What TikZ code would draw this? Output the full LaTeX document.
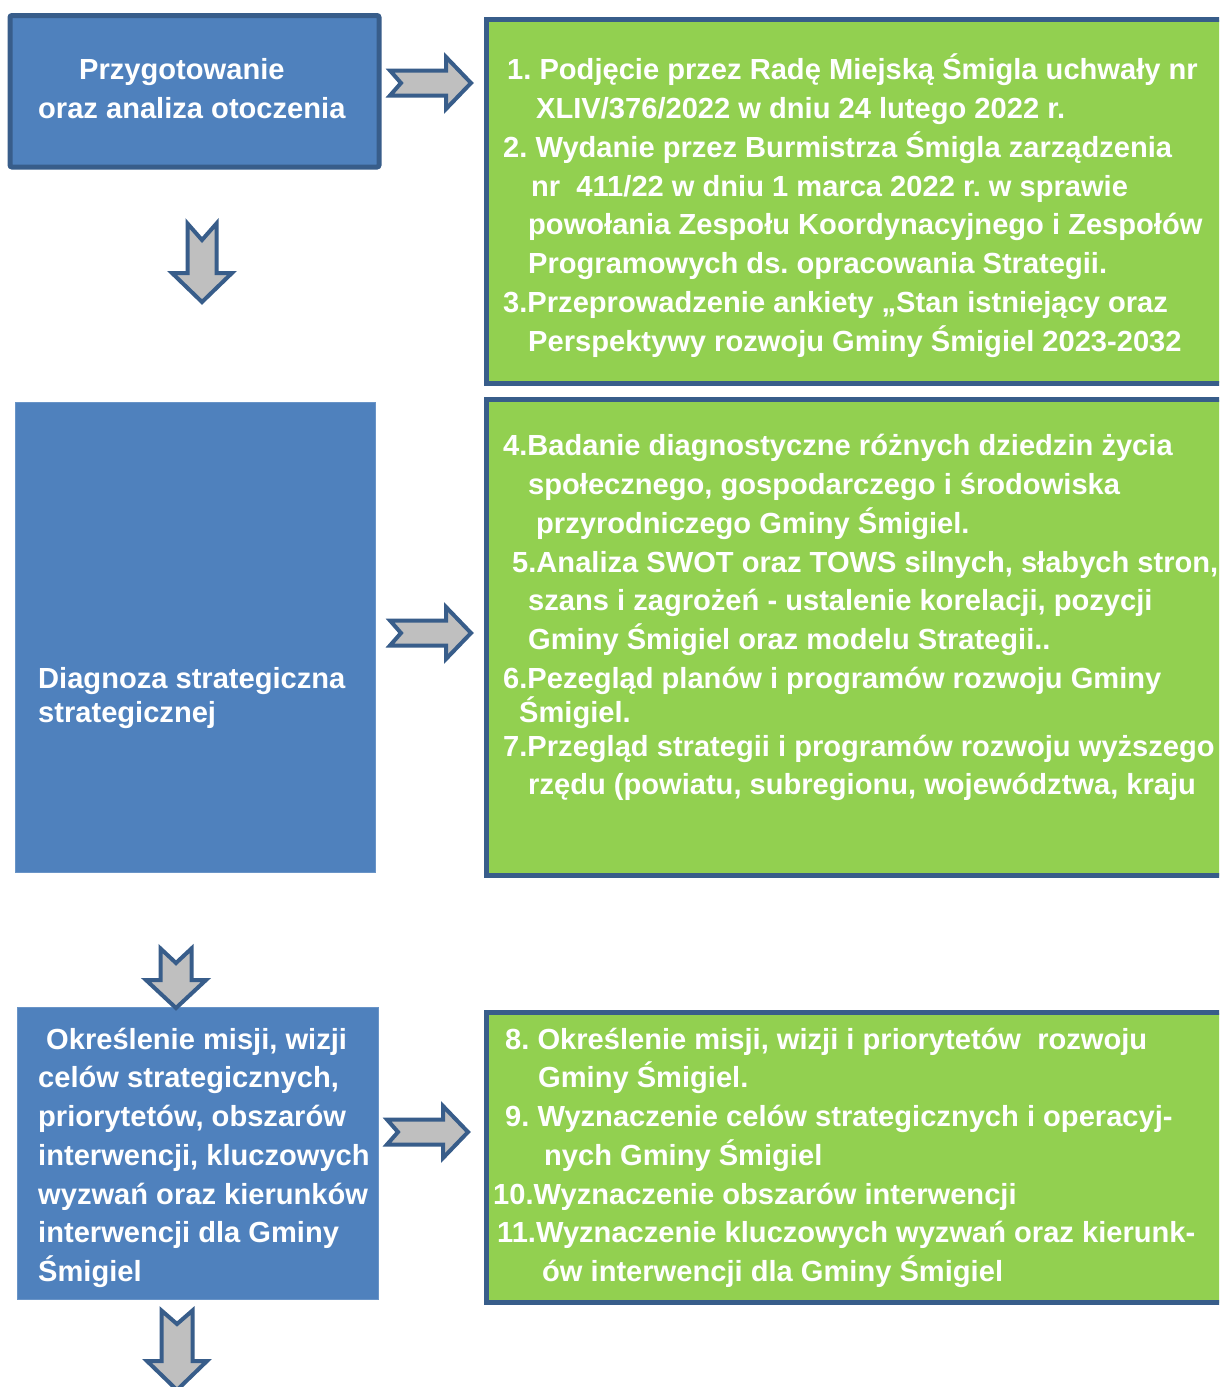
\documentclass[tikz,border=0pt]{standalone}
\usepackage{fontspec}
\setmainfont{Liberation Sans}
\definecolor{boxblue}{HTML}{4F81BD}
\definecolor{edgeblue}{HTML}{385D8A}
\definecolor{boxgreen}{HTML}{92D050}
\definecolor{arrgray}{HTML}{BFBFBF}
\begin{document}
\frenchspacing
\begin{tikzpicture}[x=1pt,y=-1pt,
  txt/.style={anchor=base west, inner sep=0pt, text=white, font=\frenchspacing\bfseries\fontsize{29.1}{39}\selectfont},
  blueframe/.style={fill=boxblue, draw=edgeblue, line width=5pt, rounded corners=2pt, inner sep=0pt},
  blueplain/.style={fill=boxblue, draw=boxblue!85!white, line width=1pt, inner sep=0pt},
  greenbox/.style={fill=boxgreen, draw=edgeblue, line width=5pt, inner sep=0pt},
  blockarrow/.style={fill=arrgray, draw=edgeblue, line width=4pt, line join=miter}]
\useasboundingbox (0,0) rectangle (1219,1387);
\clip (0,0) rectangle (1219,1387);
\fill[white] (0,0) rectangle (1219,1387);

% boxes
\node[blueframe, minimum width=369pt, minimum height=151.5pt] (b1) at (194.5,91.25) {};
\node[greenbox, minimum width=753.5pt, minimum height=363.5pt] (g1) at (863.25,201.25) {};
\node[blueplain, minimum width=360pt, minimum height=470pt] (b2) at (195,637) {};
\node[greenbox, minimum width=753.5pt, minimum height=476pt] (g2) at (863.25,637.5) {};
\node[blueplain, minimum width=361pt, minimum height=292pt] (b3) at (197.5,1153) {};
\node[greenbox, minimum width=753.5pt, minimum height=290pt] (g3) at (863.25,1157.5) {};

% right block arrows
\foreach \nm/\ax/\ay in {r1/388/83, r2/388/633, r3/385/1132}{
  \coordinate (\nm) at (\ax,\ay);
  \draw[blockarrow, shift={(\nm)}] (2,-12.5) -- (13,0) -- (2,12.5) -- (58,12.5) -- (58,26) -- (83,0) -- (58,-26) -- (58,-12.5) -- cycle;
}
% down block arrows
\coordinate (d1) at (202,222);
\draw[blockarrow, shift={(d1)}] (-14.5,1.5) -- (0,18) -- (14.5,1.5) -- (14.5,51) -- (30,51) -- (0,80) -- (-30,51) -- (-14.5,51) -- cycle;
\coordinate (d2) at (176,947);
\draw[blockarrow, shift={(d2)}] (-15.5,1.5) -- (0,16) -- (15.5,1.5) -- (15.5,33) -- (30,33) -- (0,61) -- (-30,33) -- (-15.5,33) -- cycle;
\coordinate (d3) at (177,1309);
\draw[blockarrow, shift={(d3)}] (-15.5,1.5) -- (0,15) -- (15.5,1.5) -- (15.5,52) -- (30,52) -- (0,81) -- (-30,52) -- (-15.5,52) -- cycle;

% blue box texts
\node[txt] (b1a) at (79,79) {Przygotowanie};
\node[txt] (b1b) at (38,118) {oraz analiza otoczenia};
\node[txt] (b2a) at (38,688) {Diagnoza strategiczna};
\node[txt] (b2b) at (38,722) {strategicznej};
\node[txt] (b3a) at (46,1049) {Określenie misji, wizji};
\node[txt] (b3b) at (38,1087) {celów strategicznych,};
\node[txt] (b3c) at (38,1126) {priorytetów, obszarów};
\node[txt] (b3d) at (38,1165) {interwencji, kluczowych};
\node[txt] (b3e) at (38,1204) {wyzwań oraz kierunków};
\node[txt] (b3f) at (38,1242) {interwencji dla Gminy};
\node[txt] (b3g) at (38,1281) {Śmigiel};

% green box 1
\node[txt] (g1a) at (507,79) {1. Podjęcie przez Radę Miejską Śmigla uchwały nr};
\node[txt] (g1b) at (536,118) {XLIV/376/2022 w dniu 24 lutego 2022 r.};
\node[txt] (g1c) at (503,157) {2. Wydanie przez Burmistrza Śmigla zarządzenia};
\node[txt] (g1d) at (531,196) {nr\ \ 411/22 w dniu 1 marca 2022 r. w sprawie};
\node[txt] (g1e) at (528,234) {powołania Zespołu Koordynacyjnego i Zespołów};
\node[txt] (g1f) at (528,273) {Programowych ds. opracowania Strategii.};
\node[txt] (g1g) at (503,312) {3.Przeprowadzenie ankiety „Stan istniejący oraz};
\node[txt] (g1h) at (528,351) {Perspektywy rozwoju Gminy Śmigiel 2023-2032};

% green box 2
\node[txt] (g2a) at (503,455) {4.Badanie diagnostyczne różnych dziedzin życia};
\node[txt] (g2b) at (528,494) {społecznego, gospodarczego i środowiska};
\node[txt] (g2c) at (536,533) {przyrodniczego Gminy Śmigiel.};
\node[txt] (g2d) at (512,572) {5.Analiza SWOT oraz TOWS silnych, słabych stron,};
\node[txt] (g2e) at (528,610) {szans i zagrożeń - ustalenie korelacji, pozycji};
\node[txt] (g2f) at (528,649) {Gminy Śmigiel oraz modelu Strategii..};
\node[txt] (g2g) at (503,688) {6.Pezegląd planów i programów rozwoju Gminy};
\node[txt] (g2h) at (519,722) {Śmigiel.};
\node[txt] (g2i) at (503,756) {7.Przegląd strategii i programów rozwoju wyższego};
\node[txt] (g2j) at (528,794) {rzędu (powiatu, subregionu, województwa, kraju};

% green box 3
\node[txt] (g3a) at (505,1049) {8. Określenie misji, wizji i priorytetów\ \ rozwoju};
\node[txt] (g3b) at (538,1087) {Gminy Śmigiel.};
\node[txt] (g3c) at (505,1126) {9. Wyznaczenie celów strategicznych i operacyj-};
\node[txt] (g3d) at (544,1165) {nych Gminy Śmigiel};
\node[txt] (g3e) at (493,1204) {10.Wyznaczenie obszarów interwencji};
\node[txt] (g3f) at (497,1242) {11.Wyznaczenie kluczowych wyzwań oraz kierunk-};
\node[txt] (g3g) at (542,1281) {ów interwencji dla Gminy Śmigiel};
\end{tikzpicture}
\end{document}
